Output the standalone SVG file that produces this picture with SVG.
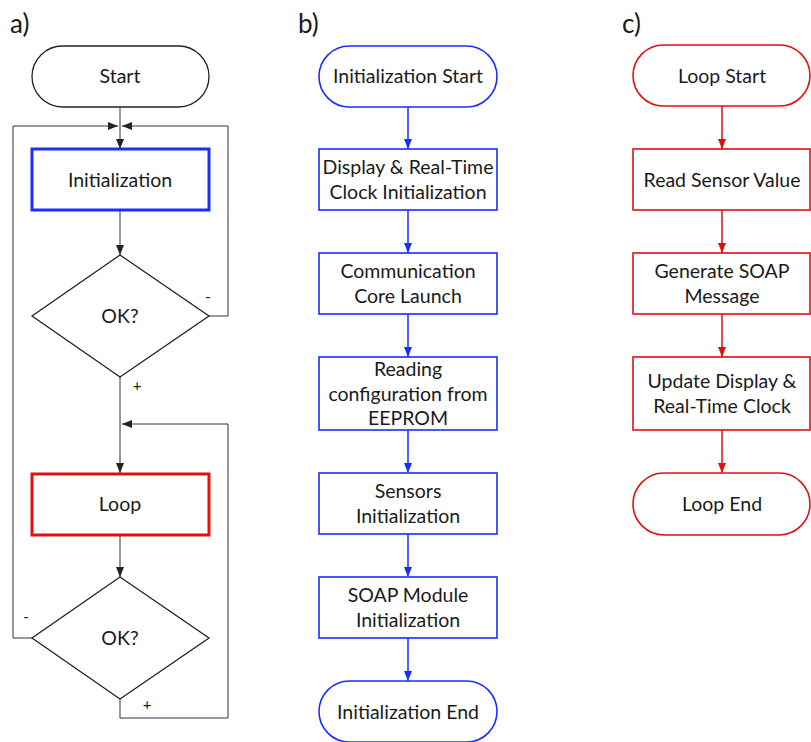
<svg xmlns="http://www.w3.org/2000/svg" width="811" height="742" viewBox="0 0 811 742">
<style>
text{font-family:Lato,"Open Sans","Liberation Sans",sans-serif;font-size:19.5px;fill:#1a1a1a;text-anchor:middle}
.lbl{font-size:26px;text-anchor:start}
.sign{font-size:15px}
.k{fill:#fff;stroke:#222;stroke-width:1.3}
.b{fill:#fff;stroke:#1a2eff;stroke-width:1.6}
.r{fill:#fff;stroke:#e01010;stroke-width:1.6}
.bt{fill:#fff;stroke:#1a2eff;stroke-width:3}
.rt{fill:#fff;stroke:#e01010;stroke-width:3}
.ck{fill:none;stroke:#333;stroke-width:1}
.cb{fill:none;stroke:#1a2eff;stroke-width:1.5}
.cr{fill:none;stroke:#e01010;stroke-width:1.5}
</style>
<defs>
<marker id="ak" markerUnits="userSpaceOnUse" markerWidth="10" markerHeight="10" viewBox="0 0 10 10" refX="10" refY="5" orient="auto"><path d="M0,1 L10,5 L0,9 Z" fill="#222"/></marker>
<marker id="ab" markerUnits="userSpaceOnUse" markerWidth="10" markerHeight="10" viewBox="0 0 10 10" refX="10" refY="5" orient="auto"><path d="M0,1 L10,5 L0,9 Z" fill="#1a2eff"/></marker>
<marker id="ar" markerUnits="userSpaceOnUse" markerWidth="10" markerHeight="10" viewBox="0 0 10 10" refX="10" refY="5" orient="auto"><path d="M0,1 L10,5 L0,9 Z" fill="#e01010"/></marker>
</defs>

<text class="lbl" x="10" y="33">a)</text>
<text class="lbl" x="298" y="33">b)</text>
<text class="lbl" x="622" y="33">c)</text>

<g id="connectors">
<path class="ck" d="M120,107 V149" marker-end="url(#ak)"/>
<path class="ck" d="M32,638 H13 V126 H118" marker-end="url(#ak)"/>
<path class="ck" d="M209,316 H228 V126 H122" marker-end="url(#ak)"/>
<path class="ck" d="M120,210 V255" marker-end="url(#ak)"/>
<path class="ck" d="M120,377 V473" marker-end="url(#ak)"/>
<path class="ck" d="M120,699 V718 H228 V424 H122" marker-end="url(#ak)"/>
<path class="ck" d="M120,535 V577" marker-end="url(#ak)"/>
<path class="cb" d="M408,107 V149" marker-end="url(#ab)"/>
<path class="cb" d="M408,210 V253" marker-end="url(#ab)"/>
<path class="cb" d="M408,314 V357" marker-end="url(#ab)"/>
<path class="cb" d="M408,430 V473" marker-end="url(#ab)"/>
<path class="cb" d="M408,534 V577" marker-end="url(#ab)"/>
<path class="cb" d="M408,638 V681" marker-end="url(#ab)"/>
<path class="cr" d="M722,106 V149" marker-end="url(#ar)"/>
<path class="cr" d="M722,210 V253" marker-end="url(#ar)"/>
<path class="cr" d="M722,314 V357" marker-end="url(#ar)"/>
<path class="cr" d="M722,430 V473" marker-end="url(#ar)"/>
<text class="sign" x="208" y="302">-</text>
<text class="sign" x="137" y="391">+</text>
<text class="sign" x="26" y="622">-</text>
<text class="sign" x="147" y="710">+</text>
</g>

<g id="a_start"><rect class="k" x="32" y="46" width="177" height="61" rx="30.5"/><text x="120" y="83">Start</text></g>
<g id="a_init"><rect class="bt" x="32" y="149" width="177" height="61"/><text x="120" y="187">Initialization</text></g>
<g id="a_ok1"><path class="k" d="M120,255 L209,316 L120,377 L32,316 Z"/><text x="120" y="323">OK?</text></g>
<g id="a_loop"><rect class="rt" x="32" y="474" width="177" height="61"/><text x="120" y="511">Loop</text></g>
<g id="a_ok2"><path class="k" d="M120,577 L209,638 L120,699 L32,638 Z"/><text x="120" y="645">OK?</text></g>

<g id="b_start"><rect class="b" x="319" y="46" width="178" height="61" rx="30.5"/><text x="408" y="83">Initialization Start</text></g>
<g id="b_disp"><rect class="b" x="319" y="149" width="178" height="61"/><text x="408" y="174">Display &amp; Real-Time</text><text x="408" y="199">Clock Initialization</text></g>
<g id="b_comm"><rect class="b" x="319" y="253" width="178" height="61"/><text x="408" y="278">Communication</text><text x="408" y="303">Core Launch</text></g>
<g id="b_read"><rect class="b" x="319" y="357" width="178" height="73"/><text x="408" y="376">Reading</text><text x="408" y="401">configuration from</text><text x="408" y="425">EEPROM</text></g>
<g id="b_sens"><rect class="b" x="319" y="473" width="178" height="61"/><text x="408" y="498">Sensors</text><text x="408" y="523">Initialization</text></g>
<g id="b_soap"><rect class="b" x="319" y="577" width="178" height="61"/><text x="408" y="602">SOAP Module</text><text x="408" y="627">Initialization</text></g>
<g id="b_end"><rect class="b" x="319" y="681" width="178" height="61" rx="30.5"/><text x="408" y="719">Initialization End</text></g>

<g id="c_start"><rect class="r" x="633" y="45" width="177" height="61" rx="30.5"/><text x="722" y="83">Loop Start</text></g>
<g id="c_read"><rect class="r" x="633" y="149" width="177" height="61"/><text x="722" y="187">Read Sensor Value</text></g>
<g id="c_gen"><rect class="r" x="633" y="253" width="177" height="61"/><text x="722" y="278">Generate SOAP</text><text x="722" y="303">Message</text></g>
<g id="c_upd"><rect class="r" x="633" y="357" width="177" height="73"/><text x="722" y="388">Update Display &amp;</text><text x="722" y="413">Real-Time Clock</text></g>
<g id="c_end"><rect class="r" x="633" y="473" width="177" height="62" rx="31"/><text x="722" y="511">Loop End</text></g>
</svg>
